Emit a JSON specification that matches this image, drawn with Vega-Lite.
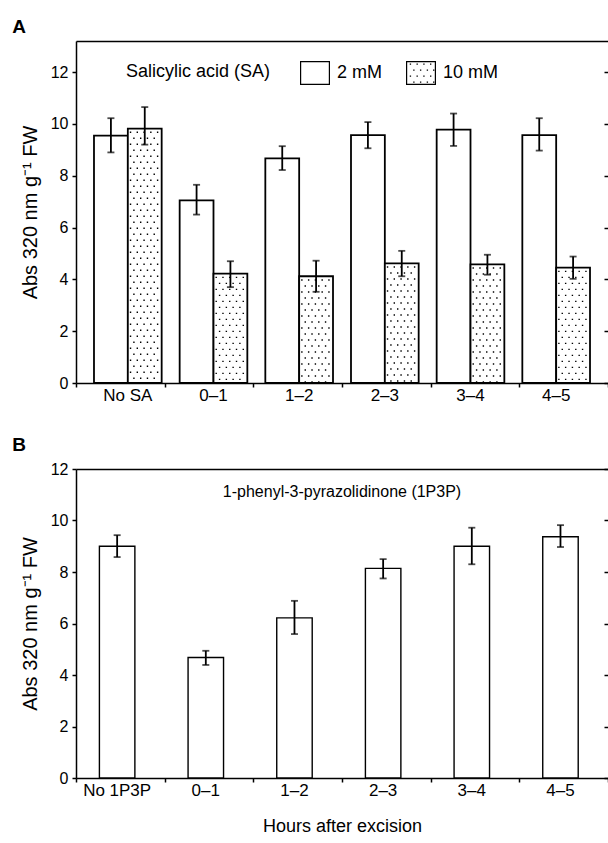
{
  "$schema": "https://vega.github.io/schema/vega-lite/v6.json",
  "padding": {"left": 12, "top": 18, "right": 0, "bottom": 5},
  "config": {
    "font": "Liberation Sans",
    "view": {"stroke": null},
    "axis": {"domainColor": "black", "domainWidth": 1.5, "tickColor": "black", "tickWidth": 1.5, "tickSize": 4, "labelColor": "black", "labelFontSize": 16, "titleFontSize": 20, "titleFontWeight": "normal", "titleColor": "black", "grid": false, "labelPadding": 4},
    "axisX": {"labelFontSize": 17},
    "title": {"fontSize": 19, "fontWeight": "bold", "anchor": "start", "color": "black"},
    "concat": {"spacing": 33}
  },
  "datasets": {
    "sa": [
      {"time": "No SA", "conc": "2 mM", "mean": 9.55, "lo": 8.9, "hi": 10.22},
      {"time": "No SA", "conc": "10 mM", "mean": 9.82, "lo": 9.2, "hi": 10.65},
      {"time": "0–1", "conc": "2 mM", "mean": 7.05, "lo": 6.5, "hi": 7.65},
      {"time": "0–1", "conc": "10 mM", "mean": 4.22, "lo": 3.7, "hi": 4.7},
      {"time": "1–2", "conc": "2 mM", "mean": 8.67, "lo": 8.22, "hi": 9.14},
      {"time": "1–2", "conc": "10 mM", "mean": 4.12, "lo": 3.52, "hi": 4.72},
      {"time": "2–3", "conc": "2 mM", "mean": 9.57, "lo": 9.06, "hi": 10.07},
      {"time": "2–3", "conc": "10 mM", "mean": 4.62, "lo": 4.12, "hi": 5.1},
      {"time": "3–4", "conc": "2 mM", "mean": 9.78, "lo": 9.15, "hi": 10.4},
      {"time": "3–4", "conc": "10 mM", "mean": 4.58, "lo": 4.18, "hi": 4.95},
      {"time": "4–5", "conc": "2 mM", "mean": 9.57, "lo": 8.97, "hi": 10.22},
      {"time": "4–5", "conc": "10 mM", "mean": 4.45, "lo": 4.02, "hi": 4.88}
    ],
    "pp": [
      {"time": "No 1P3P", "mean": 9.0, "lo": 8.58, "hi": 9.43},
      {"time": "0–1", "mean": 4.68, "lo": 4.39, "hi": 4.94},
      {"time": "1–2", "mean": 6.22, "lo": 5.59, "hi": 6.88},
      {"time": "2–3", "mean": 8.14, "lo": 7.75, "hi": 8.5},
      {"time": "3–4", "mean": 9.0, "lo": 8.3, "hi": 9.72},
      {"time": "4–5", "mean": 9.37, "lo": 8.97, "hi": 9.82}
    ],
    "note": [{"label": "1-phenyl-3-pyrazolidinone (1P3P)"}]
  },
  "vconcat": [
    {
      "title": {"text": "A", "frame": "bounds", "dx": -8, "offset": 4},
      "width": 532,
      "height": 342,
      "data": {"name": "sa"},
      "resolve": {"scale": {"x": "independent", "xOffset": "independent"}, "axis": {"x": "independent", "y": "independent"}},
      "layer": [
        {
          "mark": {"type": "rule", "opacity": 0},
          "encoding": {
            "x": {"field": "time", "type": "nominal", "sort": ["No SA", "0–1", "1–2", "2–3", "3–4", "4–5"], "scale": {"paddingInner": 0, "paddingOuter": 0}, "axis": {"orient": "bottom", "labels": false, "domain": false, "ticks": true, "tickBand": "extent", "title": null}}
          }
        },
        {
          "mark": {"type": "bar", "stroke": "black", "strokeWidth": 1.8, "fill": "white"},
          "encoding": {
            "x": {"field": "time", "type": "nominal", "sort": ["No SA", "0–1", "1–2", "2–3", "3–4", "4–5"], "scale": {"paddingInner": 0.21, "paddingOuter": 0.21}, "axis": {"orient": "bottom", "title": null, "labelAngle": 0, "ticks": false, "domain": true}},
            "xOffset": {"field": "conc", "type": "nominal", "sort": ["2 mM", "10 mM"]},
            "y": {"field": "mean", "type": "quantitative", "scale": {"domain": [0, 13.2], "nice": false}, "axis": {"orient": "left", "values": [0, 2, 4, 6, 8, 10, 12], "title": "Abs 320 nm g⁻¹ FW", "titlePadding": 10}}
          }
        },
        {"transform": [{"filter": "datum.conc == '10 mM'"}], "mark": {"type": "rule", "color": "black", "strokeWidth": 1.4, "strokeDash": [1.4, 10.6], "strokeDashOffset": 9}, "encoding": {"x": {"field": "time", "type": "nominal", "sort": ["No SA", "0–1", "1–2", "2–3", "3–4", "4–5"], "scale": {"paddingInner": 0.21, "paddingOuter": 0.21}, "bandPosition": 0.54, "axis": null}, "y": {"field": "mean", "type": "quantitative", "axis": null}, "y2": {"datum": 0}}},
        {"transform": [{"filter": "datum.conc == '10 mM'"}], "mark": {"type": "rule", "color": "black", "strokeWidth": 1.4, "strokeDash": [1.4, 10.6], "strokeDashOffset": 3}, "encoding": {"x": {"field": "time", "type": "nominal", "sort": ["No SA", "0–1", "1–2", "2–3", "3–4", "4–5"], "scale": {"paddingInner": 0.21, "paddingOuter": 0.21}, "bandPosition": 0.59, "axis": null}, "y": {"field": "mean", "type": "quantitative", "axis": null}, "y2": {"datum": 0}}},
        {"transform": [{"filter": "datum.conc == '10 mM'"}], "mark": {"type": "rule", "color": "black", "strokeWidth": 1.4, "strokeDash": [1.4, 10.6], "strokeDashOffset": 9}, "encoding": {"x": {"field": "time", "type": "nominal", "sort": ["No SA", "0–1", "1–2", "2–3", "3–4", "4–5"], "scale": {"paddingInner": 0.21, "paddingOuter": 0.21}, "bandPosition": 0.64, "axis": null}, "y": {"field": "mean", "type": "quantitative", "axis": null}, "y2": {"datum": 0}}},
        {"transform": [{"filter": "datum.conc == '10 mM'"}], "mark": {"type": "rule", "color": "black", "strokeWidth": 1.4, "strokeDash": [1.4, 10.6], "strokeDashOffset": 3}, "encoding": {"x": {"field": "time", "type": "nominal", "sort": ["No SA", "0–1", "1–2", "2–3", "3–4", "4–5"], "scale": {"paddingInner": 0.21, "paddingOuter": 0.21}, "bandPosition": 0.69, "axis": null}, "y": {"field": "mean", "type": "quantitative", "axis": null}, "y2": {"datum": 0}}},
        {"transform": [{"filter": "datum.conc == '10 mM'"}], "mark": {"type": "rule", "color": "black", "strokeWidth": 1.4, "strokeDash": [1.4, 10.6], "strokeDashOffset": 9}, "encoding": {"x": {"field": "time", "type": "nominal", "sort": ["No SA", "0–1", "1–2", "2–3", "3–4", "4–5"], "scale": {"paddingInner": 0.21, "paddingOuter": 0.21}, "bandPosition": 0.74, "axis": null}, "y": {"field": "mean", "type": "quantitative", "axis": null}, "y2": {"datum": 0}}},
        {"transform": [{"filter": "datum.conc == '10 mM'"}], "mark": {"type": "rule", "color": "black", "strokeWidth": 1.4, "strokeDash": [1.4, 10.6], "strokeDashOffset": 3}, "encoding": {"x": {"field": "time", "type": "nominal", "sort": ["No SA", "0–1", "1–2", "2–3", "3–4", "4–5"], "scale": {"paddingInner": 0.21, "paddingOuter": 0.21}, "bandPosition": 0.79, "axis": null}, "y": {"field": "mean", "type": "quantitative", "axis": null}, "y2": {"datum": 0}}},
        {"transform": [{"filter": "datum.conc == '10 mM'"}], "mark": {"type": "rule", "color": "black", "strokeWidth": 1.4, "strokeDash": [1.4, 10.6], "strokeDashOffset": 9}, "encoding": {"x": {"field": "time", "type": "nominal", "sort": ["No SA", "0–1", "1–2", "2–3", "3–4", "4–5"], "scale": {"paddingInner": 0.21, "paddingOuter": 0.21}, "bandPosition": 0.84, "axis": null}, "y": {"field": "mean", "type": "quantitative", "axis": null}, "y2": {"datum": 0}}},
        {"transform": [{"filter": "datum.conc == '10 mM'"}], "mark": {"type": "rule", "color": "black", "strokeWidth": 1.4, "strokeDash": [1.4, 10.6], "strokeDashOffset": 3}, "encoding": {"x": {"field": "time", "type": "nominal", "sort": ["No SA", "0–1", "1–2", "2–3", "3–4", "4–5"], "scale": {"paddingInner": 0.21, "paddingOuter": 0.21}, "bandPosition": 0.89, "axis": null}, "y": {"field": "mean", "type": "quantitative", "axis": null}, "y2": {"datum": 0}}},
        {"transform": [{"filter": "datum.conc == '10 mM'"}], "mark": {"type": "rule", "color": "black", "strokeWidth": 1.4, "strokeDash": [1.4, 10.6], "strokeDashOffset": 9}, "encoding": {"x": {"field": "time", "type": "nominal", "sort": ["No SA", "0–1", "1–2", "2–3", "3–4", "4–5"], "scale": {"paddingInner": 0.21, "paddingOuter": 0.21}, "bandPosition": 0.94, "axis": null}, "y": {"field": "mean", "type": "quantitative", "axis": null}, "y2": {"datum": 0}}},
        {
          "mark": {"type": "rule", "color": "black", "strokeWidth": 1.8},
          "encoding": {
            "x": {"field": "time", "type": "nominal", "sort": ["No SA", "0–1", "1–2", "2–3", "3–4", "4–5"], "scale": {"paddingInner": 0.21, "paddingOuter": 0.21}, "axis": {"orient": "top", "labels": false, "ticks": false, "title": null, "domainWidth": 1.5}},
            "xOffset": {"field": "conc", "type": "nominal", "sort": ["2 mM", "10 mM"]},
            "y": {"field": "lo", "type": "quantitative", "axis": {"orient": "right", "labels": false, "domain": false, "tickSize": -4, "title": null, "values": [0, 2, 4, 6, 8, 10, 12]}},
            "y2": {"field": "hi"}
          }
        },
        {
          "mark": {"type": "tick", "color": "black", "size": 7, "thickness": 1.8},
          "encoding": {
            "x": {"field": "time", "type": "nominal", "sort": ["No SA", "0–1", "1–2", "2–3", "3–4", "4–5"], "scale": {"paddingInner": 0.21, "paddingOuter": 0.21}, "axis": null},
            "xOffset": {"field": "conc", "type": "nominal", "sort": ["2 mM", "10 mM"]},
            "y": {"field": "lo", "type": "quantitative", "axis": null}
          }
        },
        {
          "mark": {"type": "tick", "color": "black", "size": 7, "thickness": 1.8},
          "encoding": {
            "x": {"field": "time", "type": "nominal", "sort": ["No SA", "0–1", "1–2", "2–3", "3–4", "4–5"], "scale": {"paddingInner": 0.21, "paddingOuter": 0.21}, "axis": null},
            "xOffset": {"field": "conc", "type": "nominal", "sort": ["2 mM", "10 mM"]},
            "y": {"field": "hi", "type": "quantitative", "axis": null}
          }
        },
        {
          "transform": [{"filter": "false"}],
          "mark": {"type": "point", "filled": true, "color": "black", "size": 900, "opacity": 1},
          "encoding": {
            "shape": {
              "field": "conc", "type": "nominal",
              "scale": {"domain": ["2 mM", "10 mM"], "range": [
                "M-1,-0.8H1V0.8H-1Z M-0.92,-0.72V0.72H0.92V-0.72Z",
                "M-1,-0.8H1V0.8H-1Z M-0.92,-0.72V0.72H0.92V-0.72Z M-0.75,-0.64h0.09v0.09h-0.09Z M-0.3,-0.64h0.09v0.09h-0.09Z M0.15,-0.64h0.09v0.09h-0.09Z M0.6,-0.64h0.09v0.09h-0.09Z M-0.52,-0.24h0.09v0.09h-0.09Z M-0.07,-0.24h0.09v0.09h-0.09Z M0.38,-0.24h0.09v0.09h-0.09Z M0.8,-0.24h0.09v0.09h-0.09Z M-0.75,0.16h0.09v0.09h-0.09Z M-0.3,0.16h0.09v0.09h-0.09Z M0.15,0.16h0.09v0.09h-0.09Z M0.6,0.16h0.09v0.09h-0.09Z M-0.52,0.56h0.09v0.09h-0.09Z M-0.07,0.56h0.09v0.09h-0.09Z M0.38,0.56h0.09v0.09h-0.09Z M0.8,0.56h0.09v0.09h-0.09Z"
              ]},
              "legend": {
                "orient": "none", "legendX": 50, "legendY": 17, "direction": "horizontal",
                "title": "Salicylic acid (SA)", "titleOrient": "left", "titleFontSize": 18, "titleFontWeight": "normal", "titleColor": "black", "titlePadding": 29, "titleBaseline": "middle",
                "labelFontSize": 18, "labelColor": "black", "labelOffset": 7, "columnPadding": 24,
                "symbolSize": 900, "symbolFillColor": "black", "symbolStrokeWidth": 0, "symbolOpacity": 1
              }
            }
          }
        }
      ]
    },
    {
      "title": {"text": "B", "frame": "bounds", "dx": -8, "offset": 6},
      "width": 532,
      "height": 309,
      "resolve": {"scale": {"x": "independent"}, "axis": {"x": "independent", "y": "independent"}},
      "layer": [
        {
          "data": {"name": "pp"},
          "mark": {"type": "rule", "opacity": 0},
          "encoding": {
            "x": {"field": "time", "type": "nominal", "sort": ["No 1P3P", "0–1", "1–2", "2–3", "3–4", "4–5"], "scale": {"paddingInner": 0, "paddingOuter": 0}, "axis": {"orient": "bottom", "labels": false, "domain": false, "ticks": true, "tickBand": "extent", "title": null}}
          }
        },
        {
          "data": {"name": "pp"},
          "mark": {"type": "bar", "stroke": "black", "strokeWidth": 1.4, "fill": "white"},
          "encoding": {
            "x": {"field": "time", "type": "nominal", "sort": ["No 1P3P", "0–1", "1–2", "2–3", "3–4", "4–5"], "scale": {"paddingInner": 0.6, "paddingOuter": 0.3, "align": 0.44}, "axis": {"orient": "bottom", "title": "Hours after excision", "titleFontSize": 18, "titlePadding": 19, "labelAngle": 0, "ticks": false, "domain": true}},
            "y": {"field": "mean", "type": "quantitative", "scale": {"domain": [0, 12], "nice": false}, "axis": {"orient": "left", "values": [0, 2, 4, 6, 8, 10, 12], "title": "Abs 320 nm g⁻¹ FW", "titlePadding": 10}}
          }
        },
        {
          "data": {"name": "pp"},
          "mark": {"type": "rule", "color": "black", "strokeWidth": 1.8},
          "encoding": {
            "x": {"field": "time", "type": "nominal", "sort": ["No 1P3P", "0–1", "1–2", "2–3", "3–4", "4–5"], "scale": {"paddingInner": 0.6, "paddingOuter": 0.3, "align": 0.44}, "axis": {"orient": "top", "labels": false, "ticks": false, "title": null}},
            "y": {"field": "lo", "type": "quantitative", "axis": {"orient": "right", "labels": false, "domain": false, "tickSize": -4, "title": null, "values": [0, 2, 4, 6, 8, 10, 12]}},
            "y2": {"field": "hi"}
          }
        },
        {
          "data": {"name": "pp"},
          "mark": {"type": "tick", "color": "black", "size": 7, "thickness": 1.8},
          "encoding": {
            "x": {"field": "time", "type": "nominal", "sort": ["No 1P3P", "0–1", "1–2", "2–3", "3–4", "4–5"], "scale": {"paddingInner": 0.6, "paddingOuter": 0.3, "align": 0.44}, "axis": null},
            "y": {"field": "lo", "type": "quantitative", "axis": null}
          }
        },
        {
          "data": {"name": "pp"},
          "mark": {"type": "tick", "color": "black", "size": 7, "thickness": 1.8},
          "encoding": {
            "x": {"field": "time", "type": "nominal", "sort": ["No 1P3P", "0–1", "1–2", "2–3", "3–4", "4–5"], "scale": {"paddingInner": 0.6, "paddingOuter": 0.3, "align": 0.44}, "axis": null},
            "y": {"field": "hi", "type": "quantitative", "axis": null}
          }
        },
        {
          "data": {"name": "note"},
          "mark": {"type": "text", "fontSize": 16, "color": "black", "align": "center", "baseline": "middle"},
          "encoding": {
            "x": {"field": "label", "type": "nominal", "scale": {"paddingInner": 0, "paddingOuter": 0}, "axis": null},
            "y": {"datum": 11.1, "type": "quantitative", "axis": null},
            "text": {"field": "label"}
          }
        }
      ]
    }
  ]
}
